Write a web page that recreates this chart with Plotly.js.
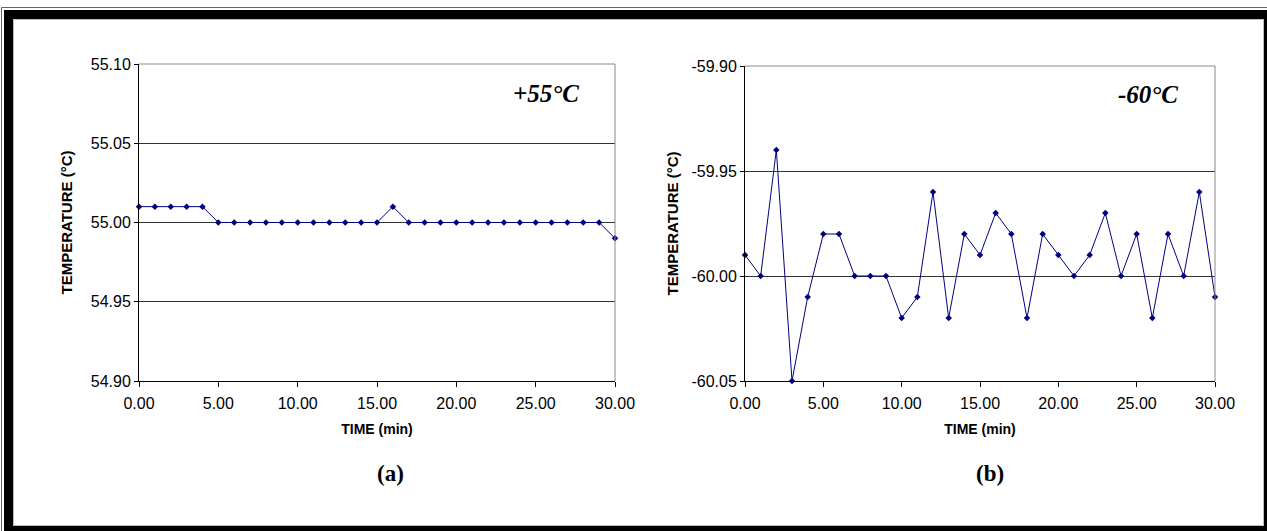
<!DOCTYPE html>
<html>
<head>
<meta charset="utf-8">
<script src="https://cdn.plot.ly/plotly-3.0.1.min.js"></script>
<style>
  html, body { margin: 0; padding: 0; background: #fff; }
  #chart { width: 1267px; height: 531px; }
</style>
</head>
<body>
<div id="chart"></div>
<script>
// ---- data ----
const timeMin = [0,1,2,3,4,5,6,7,8,9,10,11,12,13,14,15,16,17,18,19,20,21,22,23,24,25,26,27,28,29,30];
const tempPlus55 = [55.01,55.01,55.01,55.01,55.01,55.00,55.00,55.00,55.00,55.00,55.00,55.00,55.00,55.00,55.00,55.00,
                    55.01,55.00,55.00,55.00,55.00,55.00,55.00,55.00,55.00,55.00,55.00,55.00,55.00,55.00,54.99];
const tempMinus60 = [-59.99,-60.00,-59.94,-60.05,-60.01,-59.98,-59.98,-60.00,-60.00,-60.00,-60.02,-60.01,-59.96,-60.02,
                     -59.98,-59.99,-59.97,-59.98,-60.02,-59.98,-59.99,-60.00,-59.99,-59.97,-60.00,-59.98,-60.02,-59.98,
                     -60.00,-59.96,-60.01];
const xTickVals = [0, 5, 10, 15, 20, 25, 30];
const xTickText = ['0.00', '5.00', '10.00', '15.00', '20.00', '25.00', '30.00'];
const yTickValsA = [54.90, 54.95, 55.00, 55.05, 55.10];
const yTickTextA = ['54.90', '54.95', '55.00', '55.05', '55.10'];
const yTickValsB = [-60.05, -60.00, -59.95, -59.90];
const yTickTextB = ['-60.05', '-60.00', '-59.95', '-59.90'];
const panelLabels = ['(a)', '(b)'];
const setpointLabels = ['+55°C', '-60°C'];
const xTitle = 'TIME (min)';
const yTitle = 'TEMPERATURE (°C)';

// ---- layout helpers (pixel -> paper) ----
const W = 1267, H = 531;
const px = x => x / W;
const py = y => 1 - y / H;

const lineColor = '#000080';
const tickFont = {family: 'Liberation Sans, Arial, sans-serif', size: 16, color: '#000'};
const xTitleFont = {family: 'Liberation Sans, Arial, sans-serif', size: 14, color: '#000', weight: 'bold'};
const yTitleFont = {family: 'Liberation Sans, Arial, sans-serif', size: 15, color: '#000', weight: 'bold'};

function trace(y, xa, ya) {
  return {
    x: timeMin, y: y, xaxis: xa, yaxis: ya, type: 'scatter', mode: 'lines+markers',
    line: {color: lineColor, width: 1},
    marker: {symbol: 'diamond', size: 5, color: lineColor},
    cliponaxis: false, showlegend: false, hoverinfo: 'x+y'
  };
}

function xaxisDef(domain, anchor) {
  return {
    domain: domain, anchor: anchor, range: [0, 30],
    tickmode: 'array', tickvals: xTickVals, ticktext: xTickText,
    showgrid: false, zeroline: false, showline: true, linecolor: '#000', linewidth: 1,
    ticks: 'outside', ticklen: 5, tickcolor: '#000', tickwidth: 1,
    tickfont: tickFont, ticklabelstandoff: 3,
    title: {text: xTitle, font: xTitleFont, standoff: 12}
  };
}
function yaxisDef(domain, anchor, range, vals, text, standoff) {
  return {
    domain: domain, anchor: anchor, range: range,
    tickmode: 'array', tickvals: vals, ticktext: text,
    showgrid: true, gridcolor: '#333', gridwidth: 1, zeroline: false,
    showline: true, linecolor: '#000', linewidth: 1,
    ticks: 'outside', ticklen: 4, tickcolor: '#000', tickwidth: 1,
    tickfont: tickFont,
    title: {text: yTitle, font: yTitleFont, standoff: standoff}
  };
}

const dom = {
  x1: [px(139), px(615)], y1: [py(381), py(64)],
  x2: [px(745), px(1215)], y2: [py(381), py(66)]
};

const shapes = [];
// gray top/right borders of each plot area
[['x', 'y'], ['x2', 'y2']].forEach(([xa, ya]) => {
  shapes.push({type: 'line', xref: xa + ' domain', yref: ya + ' domain', x0: 0, x1: 1, y0: 1, y1: 1,
               line: {color: '#8a8a8a', width: 1}, layer: 'above'});
  shapes.push({type: 'line', xref: xa + ' domain', yref: ya + ' domain', x0: 1, x1: 1, y0: 0, y1: 1,
               line: {color: '#8a8a8a', width: 1}, layer: 'above'});
});
// decorative frame
shapes.push({type: 'rect', xref: 'paper', yref: 'paper', x0: px(1.5), x1: px(1290), y0: py(7.5), y1: py(560),
             line: {color: '#666', width: 1}, fillcolor: 'rgba(0,0,0,0)', layer: 'above'});
shapes.push({type: 'rect', xref: 'paper', yref: 'paper', x0: px(8.5), x1: px(1268.5), y0: py(14.5), y1: py(530.5),
             line: {color: '#000', width: 9}, fillcolor: 'rgba(0,0,0,0)', layer: 'above'});
shapes.push({type: 'rect', xref: 'paper', yref: 'paper', x0: px(13.5), x1: px(1263.5), y0: py(19.5), y1: py(525.5),
             line: {color: '#bbb', width: 1}, fillcolor: 'rgba(0,0,0,0)', layer: 'above'});

const annFontSet = {family: 'Liberation Serif, Times New Roman, serif', size: 25, color: '#000', weight: 'bold', style: 'italic'};
const annFontPanel = {family: 'Liberation Serif, Times New Roman, serif', size: 23, color: '#000', weight: 'bold'};

const annotations = [
  {text: setpointLabels[0], xref: 'paper', yref: 'paper', x: px(581), y: py(94), xanchor: 'right', yanchor: 'middle', showarrow: false, font: annFontSet},
  {text: setpointLabels[1], xref: 'paper', yref: 'paper', x: px(1180), y: py(95), xanchor: 'right', yanchor: 'middle', showarrow: false, font: annFontSet},
  {text: panelLabels[0], xref: 'paper', yref: 'paper', x: px(390), y: py(473), xanchor: 'center', yanchor: 'middle', showarrow: false, font: annFontPanel},
  {text: panelLabels[1], xref: 'paper', yref: 'paper', x: px(990), y: py(473), xanchor: 'center', yanchor: 'middle', showarrow: false, font: annFontPanel}
];

const layout = {
  width: W, height: H,
  margin: {l: 0, r: 0, t: 0, b: 0, pad: 0},
  paper_bgcolor: '#fff', plot_bgcolor: '#fff',
  showlegend: false,
  xaxis: xaxisDef(dom.x1, 'y'),
  yaxis: yaxisDef(dom.y1, 'x', [54.90, 55.10], yTickValsA, yTickTextA, 14),
  xaxis2: xaxisDef(dom.x2, 'y2'),
  yaxis2: yaxisDef(dom.y2, 'x2', [-60.05, -59.90], yTickValsB, yTickTextB, 9),
  shapes: shapes,
  annotations: annotations
};

Plotly.newPlot('chart', [trace(tempPlus55, 'x', 'y'), trace(tempMinus60, 'x2', 'y2')], layout,
               {displayModeBar: false, staticPlot: true});
</script>
</body>
</html>
